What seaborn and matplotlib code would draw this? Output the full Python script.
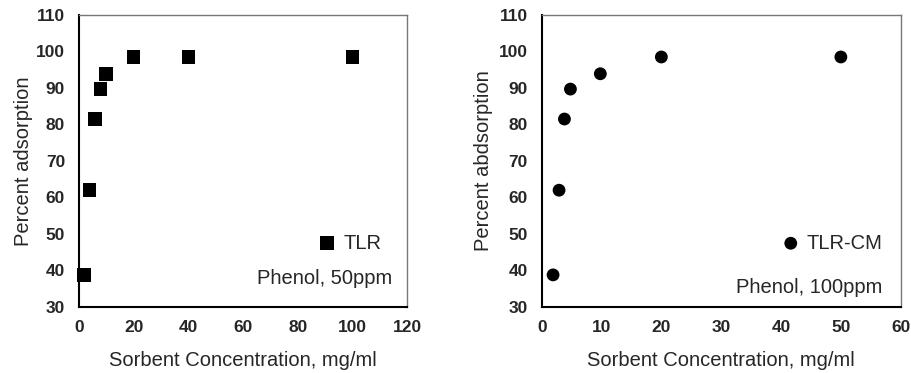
import matplotlib
matplotlib.use("Agg")
import matplotlib.pyplot as plt
import pandas as pd
import seaborn as sns

# Values
tlr_conc = [1.9, 3.8, 5.8, 7.9, 9.9, 20, 40, 100]
tlr_pct = [38.8, 62.0, 81.5, 89.7, 93.9, 98.5, 98.5, 98.5]

tlrcm_conc = [1.9, 2.9, 3.8, 4.8, 9.8, 20, 50]
tlrcm_pct = [38.8, 62.0, 81.5, 89.7, 93.9, 98.5, 98.5]

y_ticks = [30, 40, 50, 60, 70, 80, 90, 100, 110]
left_x_ticks = [0, 20, 40, 60, 80, 100, 120]
right_x_ticks = [0, 10, 20, 30, 40, 50, 60]

sns.set_style("white")
plt.rcParams["font.family"] = ["Liberation Sans", "DejaVu Sans"]

fig = plt.figure(figsize=(9.11, 3.73), dpi=100)
ax1 = fig.add_axes([79 / 911, 66 / 373, 328 / 911, 292 / 373])
ax2 = fig.add_axes([541.7 / 911, 66 / 373, 359 / 911, 292 / 373])

df1 = pd.DataFrame({"conc": tlr_conc, "pct": tlr_pct})
df2 = pd.DataFrame({"conc": tlrcm_conc, "pct": tlrcm_pct})

sns.scatterplot(data=df1, x="conc", y="pct", ax=ax1, marker="s", s=95,
                color="black", edgecolor="none", label="TLR", clip_on=False)
sns.scatterplot(data=df2, x="conc", y="pct", ax=ax2, marker="o", s=85,
                color="black", edgecolor="none", label="TLR-CM", clip_on=False)


def style_axes(ax, xticks, ylabel, note, leg_x, note_x, note_y, ypad):
    ax.set_xlim(xticks[0], xticks[-1])
    ax.set_ylim(y_ticks[0], y_ticks[-1])
    ax.set_xticks(xticks)
    ax.set_yticks(y_ticks)
    ax.tick_params(axis="x", length=0, pad=9, labelsize=12.5)
    ax.tick_params(axis="y", length=0, pad=10, labelsize=12.5)
    for lab in ax.get_xticklabels() + ax.get_yticklabels():
        lab.set_fontweight("bold")
    ax.set_xlabel("Sorbent Concentration, mg/ml", fontsize=14.5, labelpad=12)
    ax.set_ylabel(ylabel, fontsize=14.5, labelpad=ypad)
    for side in ["left", "bottom"]:
        ax.spines[side].set_color("black")
        ax.spines[side].set_linewidth(1.5)
    for side in ["top", "right"]:
        ax.spines[side].set_color("#777777")
        ax.spines[side].set_linewidth(1.0)
    ax.grid(False)
    ax.legend(loc="center right", bbox_to_anchor=(leg_x, 0.219), frameon=False,
              fontsize=14.5, handletextpad=0.2, borderaxespad=0, borderpad=0,
              handlelength=1.2)
    ax.text(note_x, note_y, note, transform=ax.transAxes, ha="right", va="center",
            fontsize=14.5)


style_axes(ax1, left_x_ticks, "Percent adsorption", "Phenol, 50ppm", 0.921, 0.954, 0.096, 2)
style_axes(ax2, right_x_ticks, "Percent abdsorption", "Phenol, 100ppm", 0.95, 0.95, 0.068, 4)

fig.savefig("out.png", dpi=100)
